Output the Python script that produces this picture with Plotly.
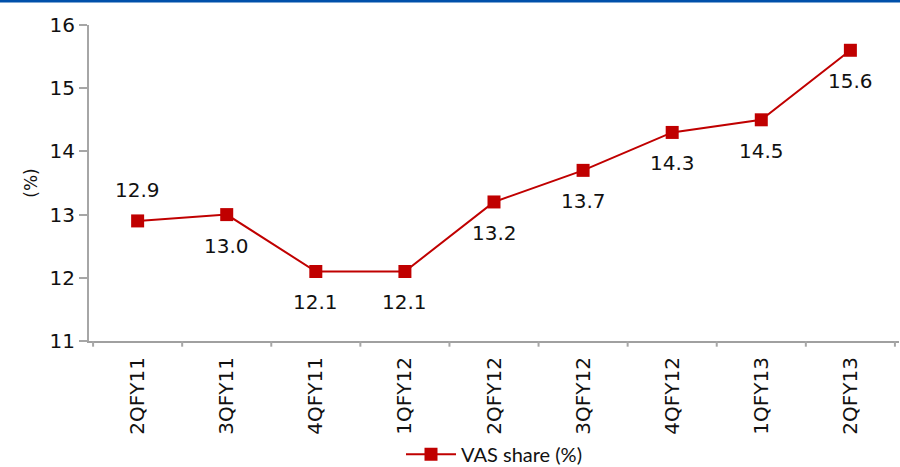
import plotly.graph_objects as go

quarters = ["2QFY11", "3QFY11", "4QFY11", "1QFY12", "2QFY12",
            "3QFY12", "4QFY12", "1QFY13", "2QFY13"]
vas_share = [12.9, 13.0, 12.1, 12.1, 13.2, 13.7, 14.3, 14.5, 15.6]
label_above = [True] + [False] * 8

RED = "#C00000"
NUM_FONT = "DejaVu Sans"
LEG_FONT = "Lato"
TXT = "#111111"

fig = go.Figure()
fig.add_trace(go.Scatter(
    x=quarters, y=vas_share,
    mode="lines+markers",
    name="VAS share (%)",
    line=dict(color=RED, width=2),
    marker=dict(symbol="square", size=13, color=RED),
    cliponaxis=False,
))

# value labels, first above the point, the rest below
for q, v, above in zip(quarters, vas_share, label_above):
    fig.add_annotation(x=q, y=v, text=f"{v:.1f}", showarrow=False,
                       yshift=31 if above else -31,
                       font=dict(family=NUM_FONT, size=20, color=TXT))

fig.update_layout(
    width=900, height=467,
    margin=dict(l=89, r=1, t=25, b=126, autoexpand=False),
    paper_bgcolor="white", plot_bgcolor="white",
    font=dict(family=NUM_FONT, size=20, color=TXT),
    showlegend=True,
    legend=dict(orientation="h", x=0.5, xanchor="center",
                y=-0.297, yanchor="top", bgcolor="rgba(0,0,0,0)",
                font=dict(family=LEG_FONT, size=20), itemwidth=50),
    xaxis=dict(
        type="category", showgrid=False, tickangle=-90, automargin=False,
        showline=True, linecolor="#A0A0A0", linewidth=2,
        ticks="", tickfont=dict(size=20), ticklabelstandoff=6,
    ),
    yaxis=dict(
        range=[11, 16], dtick=1, showgrid=False, automargin=False,
        showline=True, linecolor="#A6A6A6", linewidth=2,
        ticks="outside", ticklen=8, tickcolor="#A6A6A6", tickwidth=2,
        tickfont=dict(size=20),
        title=dict(text="(%)", font=dict(size=17), standoff=8),
        zeroline=False,
    ),
    shapes=[dict(type="line", xref="paper", yref="paper",
                 x0=-0.12, x1=1.01, y0=1.076, y1=1.076,
                 line=dict(color="#0050AA", width=3))],
)

# category tick marks between groups
for i in range(len(quarters) + 1):
    fig.add_shape(type="line", xref="x", yref="paper",
                  x0=i - 0.5, x1=i - 0.5, y0=0, y1=-0.018,
                  line=dict(color="#A6A6A6", width=2))

fig.write_html("out.html")
